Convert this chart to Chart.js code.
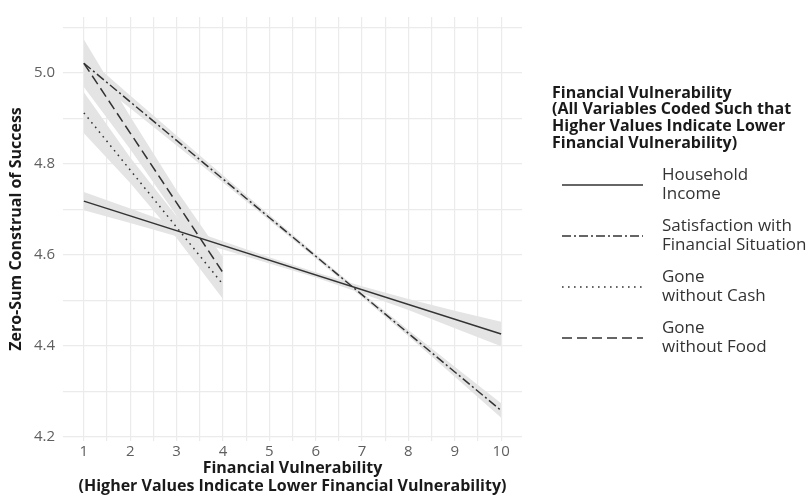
<!DOCTYPE html>
<html>
<head>
<meta charset="utf-8">
<script src="https://cdn.jsdelivr.net/npm/chart.js@4.4.0/dist/chart.umd.min.js"></script>
<style>
  html, body { margin: 0; padding: 0; background: #ffffff; }
  #wrap { width: 812px; height: 500px; position: relative; }
</style>
</head>
<body>
<div id="wrap"><canvas id="chart" width="812" height="500"></canvas></div>
<script>
// ---- Data -------------------------------------------------------------
const seriesNames = [
  'Household Income',
  'Satisfaction with Financial Situation',
  'Gone without Cash',
  'Gone without Food'
];
const legendText = [
  ['Household', 'Income'],
  ['Satisfaction with', 'Financial Situation'],
  ['Gone', 'without Cash'],
  ['Gone', 'without Food']
];
const legendTitle = [
  'Financial Vulnerability',
  '(All Variables Coded Such that',
  'Higher Values Indicate Lower',
  'Financial Vulnerability)'
];

// Fitted regression lines (endpoints of each predictor's range)
const incomeX = [1, 10];
const incomeY = [4.718, 4.426];
const satisfactionX = [1, 10];
const satisfactionY = [5.021, 4.258];
const cashX = [1, 4];
const cashY = [4.912, 4.535];
const foodX = [1, 4];
const foodY = [5.021, 4.561];

// 95% confidence bands
const incomeBandX = [1, 2, 3, 4, 5, 6, 7, 8, 9, 10];
const incomeUpper = [4.738, 4.702, 4.665, 4.630, 4.595, 4.562, 4.531, 4.503, 4.477, 4.453];
const incomeLower = [4.698, 4.670, 4.641, 4.612, 4.581, 4.550, 4.515, 4.479, 4.439, 4.399];
const satisfactionBandX = [1, 2, 3, 4, 5, 6, 7, 8, 9, 10];
const satisfactionUpper = [5.039, 4.950, 4.862, 4.775, 4.688, 4.602, 4.517, 4.435, 4.354, 4.274];
const satisfactionLower = [5.003, 4.922, 4.840, 4.759, 4.676, 4.592, 4.507, 4.421, 4.332, 4.242];
const cashBandX = [1, 2, 3, 4];
const cashUpper = [4.957, 4.814, 4.685, 4.567];
const cashLower = [4.867, 4.758, 4.637, 4.503];
const foodBandX = [1, 2, 3, 4];
const foodUpper = [5.073, 4.904, 4.742, 4.595];
const foodLower = [4.969, 4.832, 4.686, 4.527];

// Axis ticks / gridlines
const xGridValues = [1, 1.5, 2, 2.5, 3, 3.5, 4, 4.5, 5, 5.5, 6, 6.5, 7, 7.5, 8, 8.5, 9, 9.5, 10];
const xTickLabels = ['1', '2', '3', '4', '5', '6', '7', '8', '9', '10'];
const yGridValues = [4.2, 4.3, 4.4, 4.5, 4.6, 4.7, 4.8, 4.9, 5.0, 5.1];
const yTickLabels = ['4.2', '4.4', '4.6', '4.8', '5.0'];

// ---- Helpers ------------------------------------------------------------
const pts = (xs, ys) => xs.map((x, i) => ({ x: x, y: ys[i] }));
const LINE = '#333333';
const BAND = '#e4e4e4';
const dashes = [[], [9, 3, 2, 3], [1.6, 4.4], [10, 5]];

function bandPair(xs, up, lo) {
  return [
    { type: 'line', data: pts(xs, up), borderWidth: 0, pointRadius: 0,
      backgroundColor: BAND, fill: '+1', order: 5 },
    { type: 'line', data: pts(xs, lo), borderWidth: 0, pointRadius: 0,
      backgroundColor: BAND, fill: false, order: 5 }
  ];
}
function fitLine(i, xs, ys) {
  return { type: 'line', label: seriesNames[i], data: pts(xs, ys),
    borderColor: LINE, borderWidth: 1.5, borderDash: dashes[i],
    pointRadius: 0, fill: false, order: 1, legendIndex: i };
}

const datasets = [
  ...bandPair(incomeBandX, incomeUpper, incomeLower),
  ...bandPair(satisfactionBandX, satisfactionUpper, satisfactionLower),
  ...bandPair(cashBandX, cashUpper, cashLower),
  ...bandPair(foodBandX, foodUpper, foodLower),
  fitLine(0, incomeX, incomeY),
  fitLine(1, satisfactionX, satisfactionY),
  fitLine(2, cashX, cashY),
  fitLine(3, foodX, foodY)
];

// Legend drawn at the right of the panel, using each line's own dash style
const sideLegend = {
  id: 'sideLegend',
  afterDraw(chart) {
    const ctx = chart.ctx;
    ctx.save();
    ctx.textBaseline = 'middle';
    ctx.textAlign = 'left';
    ctx.fillStyle = '#1a1a1a';
    ctx.font = 'bold 16px "Open Sans"';
    legendTitle.forEach((t, i) => ctx.fillText(t, 552, 93 + i * 16.8));

    const items = chart.data.datasets.filter(d => d.legendIndex !== undefined);
    items.forEach((d) => {
      const cy = 185 + d.legendIndex * 51;
      ctx.beginPath();
      ctx.setLineDash(d.borderDash);
      ctx.strokeStyle = d.borderColor;
      ctx.lineWidth = 1.5;
      ctx.moveTo(562, cy);
      ctx.lineTo(643, cy);
      ctx.stroke();
      ctx.setLineDash([]);
      ctx.fillStyle = '#333333';
      ctx.font = '17px "Open Sans"';
      const lines = legendText[d.legendIndex];
      ctx.fillText(lines[0], 662, cy - 9.5);
      ctx.fillText(lines[1], 662, cy + 9.5);
    });
    ctx.restore();
  }
};

new Chart(document.getElementById('chart'), {
  type: 'line',
  data: { datasets: datasets },
  plugins: [sideLegend],
  options: {
    responsive: false,
    animation: false,
    devicePixelRatio: 1,
    layout: { padding: { top: 8, right: 290, left: 0, bottom: 0 } },
    plugins: { legend: { display: false }, tooltip: { enabled: false } },
    elements: { line: { tension: 0 } },
    scales: {
      x: {
        type: 'linear',
        min: 0.55,
        max: 10.45,
        afterBuildTicks(scale) { scale.ticks = xGridValues.map(v => ({ value: v })); },
        afterFit(scale) { scale.height = 59; },
        border: { display: false },
        grid: { color: '#ebebeb', lineWidth: 1.2, drawTicks: false },
        ticks: {
          autoSkip: false,
          maxRotation: 0,
          padding: 2,
          color: '#5f5f5f',
          font: { family: '"Open Sans"', size: 15 },
          callback: (v) => xTickLabels.includes(String(v)) ? String(v) : ''
        },
        title: {
          display: true,
          text: ['Financial Vulnerability', '(Higher Values Indicate Lower Financial Vulnerability)'],
          color: '#1a1a1a',
          font: { family: '"Open Sans"', size: 16, weight: 'bold', lineHeight: 1.1 },
          padding: { top: 0, bottom: 4.7 }
        }
      },
      y: {
        type: 'linear',
        min: 4.191,
        max: 5.1226,
        afterBuildTicks(scale) { scale.ticks = yGridValues.map(v => ({ value: v })); },
        afterFit(scale) { scale.width = 63; },
        border: { display: false },
        grid: { color: '#ebebeb', lineWidth: 1.2, drawTicks: false },
        ticks: {
          autoSkip: false,
          padding: 8,
          color: '#5f5f5f',
          font: { family: '"Open Sans"', size: 15 },
          callback: (v) => {
            const s = Number(v).toFixed(1);
            return yTickLabels.includes(s) ? s : '';
          }
        },
        title: {
          display: true,
          text: 'Zero-Sum Construal of Success',
          color: '#1a1a1a',
          font: { family: '"Open Sans"', size: 16, weight: 'bold' },
          padding: { top: 7, bottom: 0 }
        }
      }
    }
  }
});
</script>
</body>
</html>
